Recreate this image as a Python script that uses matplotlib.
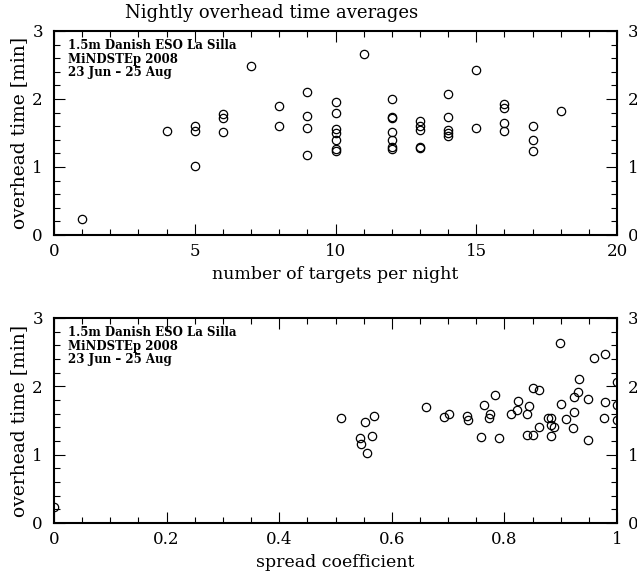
import matplotlib
matplotlib.use("Agg")
import matplotlib.pyplot as plt
from matplotlib.ticker import MultipleLocator

plt.rcParams['font.family'] = ['DejaVu Serif']

# datos panel superior: numero de objetivos por noche vs tiempo medio
n_targets = [1, 4, 5, 5, 5, 6, 6, 6, 7, 8, 8, 9, 9, 9, 9,
             10, 10, 10, 10, 10, 10, 10, 11,
             12, 12, 12, 12, 12, 12, 12,
             13, 13, 13, 13, 13,
             14, 14, 14, 14, 14, 15, 15,
             16, 16, 16, 16, 17, 17, 17, 18]
overhead_top = [0.23, 1.53, 1.60, 1.53, 1.01, 1.78, 1.72, 1.52, 2.49, 1.89, 1.60,
                2.11, 1.75, 1.57, 1.17,
                1.95, 1.79, 1.56, 1.50, 1.40, 1.27, 1.23, 2.66,
                2.00, 1.74, 1.72, 1.51, 1.40, 1.30, 1.26,
                1.67, 1.61, 1.54, 1.29, 1.28,
                2.07, 1.74, 1.54, 1.50, 1.46, 2.43, 1.58,
                1.92, 1.87, 1.64, 1.53, 1.60, 1.40, 1.23, 1.83]

# datos panel inferior: coeficiente de dispersion vs tiempo medio
spread = [0.0, 0.509, 0.552, 0.568, 0.544, 0.545, 0.565, 0.556, 0.660, 0.693,
          0.702, 0.733, 0.735, 0.758, 0.763, 0.772, 0.775, 0.783, 0.791, 0.812,
          0.822, 0.825, 0.841, 0.844, 0.840, 0.850, 0.851, 0.862, 0.861, 0.878,
          0.882, 0.883, 0.888, 0.883, 0.898, 0.901, 0.910, 0.922, 0.924, 0.923,
          0.930, 0.932, 0.948, 0.949, 0.959, 0.979, 0.978, 0.977, 1.0, 1.0, 1.0]
overhead_bot = [0.24, 1.53, 1.48, 1.56, 1.24, 1.16, 1.27, 1.02, 1.70, 1.55,
                1.59, 1.57, 1.50, 1.26, 1.73, 1.53, 1.59, 1.88, 1.25, 1.60,
                1.66, 1.78, 1.59, 1.71, 1.29, 1.29, 1.98, 1.94, 1.40, 1.53,
                1.53, 1.44, 1.40, 1.28, 2.64, 1.74, 1.52, 1.39, 1.63, 1.85,
                1.91, 2.10, 1.82, 1.22, 2.41, 2.47, 1.77, 1.54, 2.06, 1.73, 1.50]

note = "1.5m Danish ESO La Silla\nMiNDSTEp 2008\n23 Jun \u2013 25 Aug"

fig = plt.figure(figsize=(6.37, 5.74), dpi=100)
ax1 = fig.add_axes([0.0848, 0.5906, 0.8838, 0.3554])
ax2 = fig.add_axes([0.0848, 0.0889, 0.8838, 0.3571])


def estilo(ax, xmaj, xmin):
    ax.set_ylim(0, 3)
    ax.xaxis.set_major_locator(MultipleLocator(xmaj))
    ax.xaxis.set_minor_locator(MultipleLocator(xmin))
    ax.yaxis.set_major_locator(MultipleLocator(1))
    ax.yaxis.set_minor_locator(MultipleLocator(0.2))
    ax.tick_params(which='both', direction='in', top=True, right=True,
                   labelright=True, width=0.8, labelsize=12)
    ax.tick_params(which='major', length=8)
    ax.tick_params(which='minor', length=4)
    ax.tick_params(axis='y', pad=8)
    ax.tick_params(axis='x', pad=6)
    for s in ax.spines.values():
        s.set_linewidth(1.5)
    ax.set_ylabel("overhead time [min]", fontsize=13.5, labelpad=3)
    ax.text(0.025, 0.96, note, transform=ax.transAxes, va='top', ha='left',
            fontsize=8.5, fontweight='bold', linespacing=1.05)


ax1.plot(n_targets, overhead_top, 'o', ms=6, mfc='none', mec='k', mew=0.9)
ax1.set_xlim(0, 20)
estilo(ax1, 5, 1)
ax1.set_xlabel("number of targets per night", fontsize=12.5, labelpad=4)

ax2.plot(spread, overhead_bot, 'o', ms=6, mfc='none', mec='k', mew=0.9)
ax2.set_xlim(0, 1)
estilo(ax2, 0.2, 0.05)
ax2.xaxis.set_major_formatter(lambda v, p: "0" if v == 0 else ("1" if v == 1 else f"{v:g}"))
ax2.set_xlabel("spread coefficient", fontsize=12.5, labelpad=4)

fig.text(0.427, 0.977, "Nightly overhead time averages", ha='center', va='center',
         fontsize=13)

fig.savefig("out.png", dpi=100)
